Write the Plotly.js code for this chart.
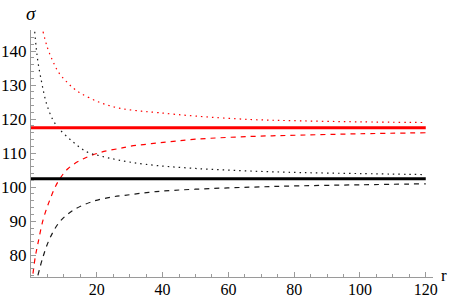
<!DOCTYPE html>
<html>
<head>
<meta charset="utf-8">
<script src="https://cdn.plot.ly/plotly-3.0.1.min.js"></script>
<style>html,body{margin:0;padding:0;background:#fff;}#chart{width:450px;height:299px;}</style>
</head>
<body>
<div id="chart"></div>
<script>
// Horizontal reference levels
var lineR = [0, 120];
var redLevel = [117.5, 117.5];
var blackLevel = [102.5, 102.5];

// Red dotted (upper) curve
var redDotR = [3.66, 5.0, 6.7, 8.5, 10.8, 13.0, 15.3, 20.4, 26, 32, 38.7, 50, 66.6, 81.8, 100, 120];
var redDotS = [145.7, 141.0, 136.9, 133.6, 131.0, 129.0, 127.5, 125.1, 123.4, 122.5, 121.9, 120.9, 119.9, 119.5, 119.2, 119.0];

// Red dashed (lower) curve
var redDashR = [0.6, 1.3, 2.1, 3.65, 5.7, 8.2, 11.3, 15.8, 21.4, 27, 30, 38.7, 50, 66.6, 81.8, 100, 120];
var redDashS = [74.6, 79.5, 83.4, 90.3, 96.2, 101.6, 105.5, 108.3, 110.3, 111.4, 112.0, 113.0, 114.1, 114.9, 115.3, 115.7, 116.0];

// Black dotted (upper) curve
var blkDotR = [1.13, 1.6, 2.1, 3.2, 4.7, 6.7, 8.7, 12.8, 16.9, 21, 26.5, 35, 50, 68, 81.8, 100, 120];
var blkDotS = [145.7, 140.8, 136.9, 131.0, 124.6, 119.7, 117.0, 113.3, 110.4, 109.2, 108.0, 106.7, 105.5, 104.7, 104.3, 104.0, 103.7];

// Black dashed (lower) curve
var blkDashR = [2.1, 3.65, 5.7, 8.7, 12.8, 18.4, 24.5, 28.5, 38, 50, 66.6, 81.8, 100, 120];
var blkDashS = [74.1, 79.5, 84.9, 89.8, 93.2, 95.7, 97.1, 97.6, 98.7, 99.4, 100.0, 100.4, 100.7, 101.0];

var xTickVals = [0, 20, 40, 60, 80, 100, 120];
var xTickText = ['', '20', '40', '60', '80', '100', '120'];
var yTickVals = [80, 90, 100, 110, 120, 130, 140];

var red = '#ff0000';
var blk = '#1a1a1a';

var traces = [
  {x: redDotR, y: redDotS, mode: 'lines', line: {color: red, width: 1.2, dash: '1.5px,4px', shape: 'spline'}},
  {x: redDashR, y: redDashS, mode: 'lines', line: {color: red, width: 1.2, dash: '5px,5px', shape: 'spline'}},
  {x: blkDotR, y: blkDotS, mode: 'lines', line: {color: blk, width: 1.2, dash: '1.5px,4px', shape: 'spline'}},
  {x: blkDashR, y: blkDashS, mode: 'lines', line: {color: blk, width: 1.2, dash: '5px,5px', shape: 'spline'}},
  {x: lineR, y: redLevel, mode: 'lines', line: {color: red, width: 3}},
  {x: lineR, y: blackLevel, mode: 'lines', line: {color: '#000', width: 3}}
];

var layout = {
  width: 450, height: 299,
  margin: {l: 31, r: 17, t: 30, b: 22, pad: 0},
  paper_bgcolor: '#fff', plot_bgcolor: '#fff',
  showlegend: false,
  xaxis: {
    range: [0, 122.2], showgrid: false, zeroline: false,
    showline: true, linecolor: '#9a9a9a', linewidth: 1,
    tickmode: 'array', tickvals: xTickVals, ticktext: xTickText,
    ticks: 'inside', ticklen: 5, tickcolor: '#9a9a9a', tickwidth: 1,
    ticklabelstandoff: -2,
    minor: {tickmode: 'linear', tick0: 0, dtick: 5, ticks: 'inside', ticklen: 3, tickcolor: '#9a9a9a', showgrid: false},
    tickfont: {family: 'Liberation Serif', size: 16, color: '#000'}
  },
  yaxis: {
    range: [73.6, 146.2], showgrid: false, zeroline: false,
    showline: true, linecolor: '#9a9a9a', linewidth: 1,
    tickmode: 'array', tickvals: yTickVals,
    ticks: 'inside', ticklen: 5, tickcolor: '#9a9a9a', tickwidth: 1,
    minor: {tickmode: 'linear', tick0: 0, dtick: 2, ticks: 'inside', ticklen: 3, tickcolor: '#9a9a9a', showgrid: false},
    tickfont: {family: 'Liberation Serif', size: 17, color: '#000'}
  },
  annotations: [
    {text: '<i>σ</i>', xref: 'x', x: 0, yref: 'paper', y: 1, xanchor: 'center', yanchor: 'bottom', yshift: 4,
     showarrow: false, font: {family: 'Liberation Serif', size: 19, color: '#000'}},
    {text: 'r', xref: 'paper', x: 1, yref: 'paper', y: 0, xanchor: 'left', yanchor: 'middle', xshift: 6, yshift: 2,
     showarrow: false, font: {family: 'Liberation Serif', size: 17, color: '#000'}}
  ]
};

Plotly.newPlot('chart', traces, layout, {staticPlot: true, displayModeBar: false});
</script>
</body>
</html>
